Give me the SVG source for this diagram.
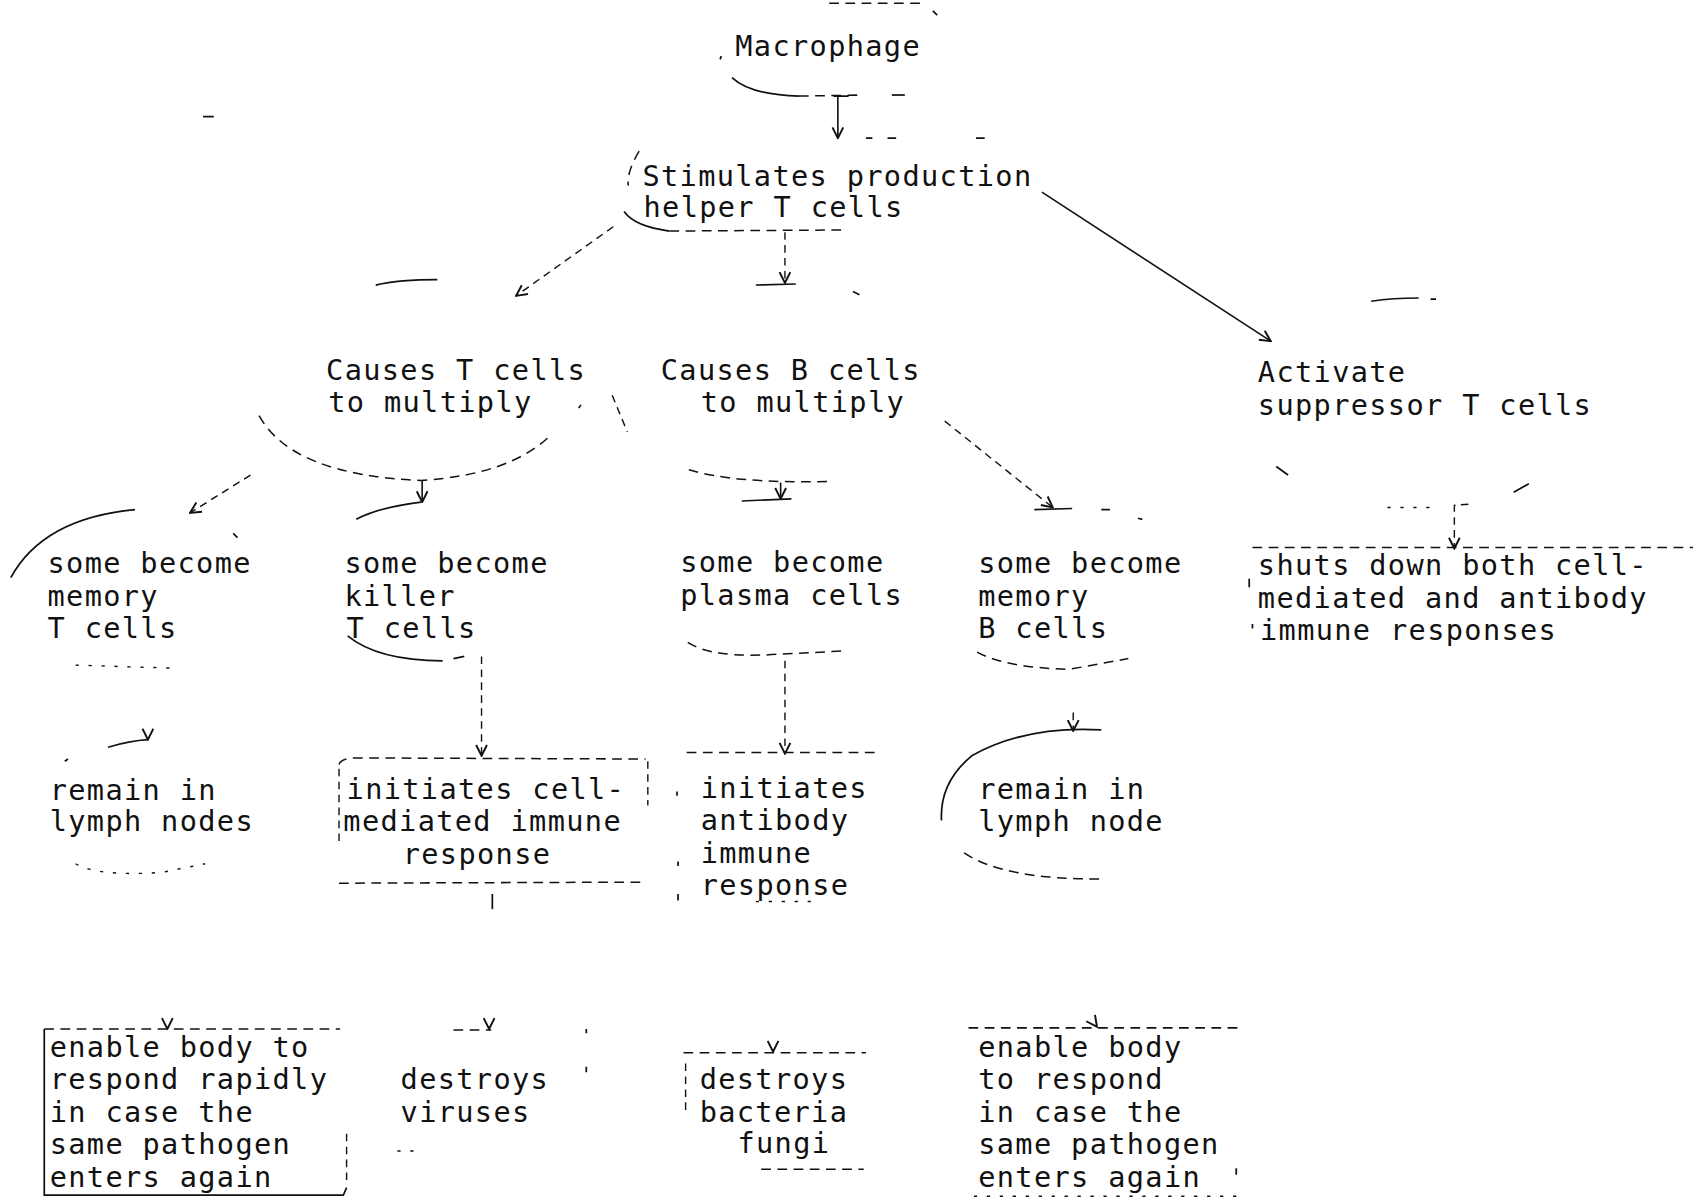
<svg xmlns="http://www.w3.org/2000/svg" width="1693" height="1198" viewBox="0 0 1693 1198">
<style>
text{font-family:"DejaVu Sans Mono","Liberation Mono",monospace;font-size:26.5px;letter-spacing:1.25px;fill:#111}
.s{fill:none;stroke:#111;stroke-width:1.6}
.d{fill:none;stroke:#111;stroke-width:1.4;stroke-dasharray:9 6}
.dd{fill:none;stroke:#111;stroke-width:1.3;stroke-dasharray:3 9}
.c{fill:none;stroke:#111;stroke-width:1.5}
.cd{fill:none;stroke:#111;stroke-width:1.3;stroke-dasharray:7 5}
.h{fill:none;stroke:none}
</style>
<defs>
<marker id="ah" viewBox="0 0 12 12" refX="11" refY="6" markerWidth="12" markerHeight="12" markerUnits="userSpaceOnUse" orient="auto">
<path d="M1,1 L11,6 L1,11" fill="none" stroke="#111" stroke-width="1.8"/>
</marker>
</defs>
<rect width="1693" height="1198" fill="#fff"/>
<g transform="scale(1.0797)">
<g id="stray"><path class="s" d="M188,108 L198,108"/></g>

<g id="macrophage">
<path class="d" d="M768,3 L858,3"/><path class="s" d="M864,10 L868,14"/>
<path class="s" d="M668,52 L667,55"/>
<path class="s" d="M678,72 Q695,88 740,89"/><path class="d" d="M740,89 L800,88"/><path class="s" d="M826,88 L838,88"/>
<text x="681" y="52">Macrophage</text>
</g>

<g id="stimulates">
<path class="d" d="M592,140 Q580,160 582,172"/>
<path class="s" d="M578,196 Q588,210 620,214"/><path class="d" d="M620,214 L782,213"/>
<path class="s" d="M802,128 L808,128 M822,128 L830,128 M904,128 L912,128"/>
<text x="595" y="172">Stimulates production</text>
<text x="596" y="201">helper T cells</text>
</g>

<g id="causesT">
<path class="s" d="M348,264 Q370,259 405,259"/>
<path class="d" d="M240,385 Q270,440 390,445 Q470,440 508,405"/>
<path class="s" d="M536,378 L538,375"/><path class="cd" d="M567,366 L581,400"/>
<text x="302" y="352">Causes T cells</text>
<text x="304" y="382">to multiply</text>
</g>

<g id="causesB">
<path class="s" d="M790,270 L796,273"/>
<path class="d" d="M638,435 Q680,448 768,446"/>
<text x="612" y="352">Causes B cells</text>
<text x="649" y="382">to multiply</text>
</g>

<g id="activate">
<path class="s" d="M1270,279 Q1290,276 1314,276 M1325,277 L1330,277"/>
<path class="s" d="M1182,432 L1193,440 M1402,456 L1416,448"/>
<path class="dd" d="M1285,470 L1330,470"/>
<text x="1165" y="354">Activate</text>
<text x="1165" y="384">suppressor T cells</text>
</g>

<g id="memoryT">
<path class="s" d="M10,535 Q40,480 125,472"/><path class="s" d="M216,494 L220,498"/>
<path class="dd" d="M70,616 L165,619"/>
<text x="44" y="531">some become</text>
<text x="44" y="561">memory</text>
<text x="44" y="591">T cells</text>
</g>

<g id="killerT">
<path class="s" d="M330,481 Q350,470 390,465"/>
<path class="s" d="M322,589 Q350,612 410,612"/><path class="s" d="M420,610 L430,608"/>
<text x="319" y="531">some become</text>
<text x="319" y="561">killer</text>
<text x="321" y="591">T cells</text>
</g>

<g id="plasma">
<path class="d" d="M637,595 Q660,610 720,606 L780,603"/>
<text x="630" y="530">some become</text>
<text x="630" y="560">plasma cells</text>
</g>

<g id="memoryB">
<path class="s" d="M1020,472 L1028,472 M1054,480 L1058,481"/>
<path class="d" d="M905,604 Q930,618 990,620 L1045,610"/>
<text x="906" y="531">some become</text>
<text x="906" y="561">memory</text>
<text x="906" y="591">B cells</text>
</g>

<g id="shutsdown">
<path class="d" d="M1160,507 L1568,507"/>
<path class="s" d="M1157,536 L1157,544 M1160,578 L1160,582"/>
<text x="1165" y="533">shuts down both cell-</text>
<text x="1165" y="563">mediated and antibody</text>
<text x="1167" y="593">immune responses</text>
</g>

<g id="remainT">
<path class="s" d="M60,705 L63,703"/>
<path class="dd" d="M70,800 Q90,812 150,808 L190,800"/>
<text x="46" y="741">remain in</text>
<text x="46" y="770">lymph nodes</text>
</g>

<g id="cellmediated">
<path class="d" d="M314,708 Q316,702 330,702 L598,703"/>
<path class="cd" d="M314,712 L314,780 M600,705 L600,746"/>
<path class="d" d="M314,818 L598,817"/>
<text x="321" y="740">initiates cell-</text>
<text x="318" y="770">mediated immune</text>
<text x="373" y="800">response</text>
</g>

<g id="antibody">
<path class="d" d="M636,697 L810,697"/>
<path class="s" d="M627,733 L627,737 M628,798 L628,802 M628,828 L628,834"/>
<path class="dd" d="M700,835 L760,835"/>
<text x="649" y="739">initiates</text>
<text x="649" y="769">antibody</text>
<text x="649" y="799">immune</text>
<text x="649" y="829">response</text>
</g>

<g id="remainB">
<path class="s" d="M1020,676 Q950,672 900,700 Q870,725 872,760"/>
<path class="d" d="M893,790 Q930,815 1022,814"/>
<text x="906" y="740">remain in</text>
<text x="906" y="770">lymph node</text>
</g>

<g id="enableLeft">
<path class="d" d="M41,953 L315,953"/>
<path class="s" d="M41,953 L41,1107 L318,1107 L321,1100"/>
<path class="cd" d="M321,1050 L321,1098"/>
<text x="46" y="979">enable body to</text>
<text x="46" y="1009">respond rapidly</text>
<text x="46" y="1039">in case the</text>
<text x="46" y="1069">same pathogen</text>
<text x="46" y="1099">enters again</text>
</g>

<g id="viruses">
<path class="d" d="M420,954 L455,954"/>
<path class="s" d="M543,953 L543,957 M543,988 L543,993"/>
<path class="dd" d="M368,1066 L388,1066"/>
<text x="371" y="1009">destroys</text>
<text x="371" y="1039">viruses</text>
</g>

<g id="bacteria">
<path class="d" d="M633,975 L802,975"/>
<path class="cd" d="M635,985 L635,1030"/>
<path class="d" d="M705,1083 L800,1083"/>
<text x="648" y="1009">destroys</text>
<text x="648" y="1039">bacteria</text>
<text x="683" y="1068">fungi</text>
</g>

<g id="enableRight">
<path class="d" d="M897,952 L1146,952"/>
<path class="dd" d="M902,1108 L1146,1108"/>
<path class="s" d="M1145,1082 L1145,1088"/>
<text x="906" y="979">enable body</text>
<text x="906" y="1009">to respond</text>
<text x="906" y="1039">in case the</text>
<text x="906" y="1069">same pathogen</text>
<text x="906" y="1099">enters again</text>
</g>

<g id="connectors">
<path class="c" d="M772,89 L786,89 M776,89 L776,128" marker-end="url(#ah)"/>
<path class="cd" d="M568,210 L478,274" marker-end="url(#ah)"/>
<path class="cd" d="M727,215 L727,262" marker-end="url(#ah)"/><path class="c" d="M700,264 L737,263"/>
<path class="c" d="M965,178 L1177,316" marker-end="url(#ah)"/>
<path class="cd" d="M232,440 L176,475" marker-end="url(#ah)"/>
<path class="c" d="M391,445 L391,465" marker-end="url(#ah)"/>
<path class="c" d="M723,447 L723,462" marker-end="url(#ah)"/><path class="c" d="M687,464 L733,462"/>
<path class="cd" d="M875,390 L975,470" marker-end="url(#ah)"/><path class="c" d="M958,472 L993,471"/>
<path class="cd" d="M1360,467 L1347,468 L1347,508" marker-end="url(#ah)"/>
<path class="c" d="M100,692 Q120,686 137,685"/><path class="h" d="M137,670 L137,685" marker-end="url(#ah)"/>
<path class="cd" d="M446,608 L446,700" marker-end="url(#ah)"/>
<path class="cd" d="M727,612 L727,698" marker-end="url(#ah)"/>
<path class="cd" d="M994,660 L994,677" marker-end="url(#ah)"/>
<path class="s" d="M456,828 L456,842"/>
<path class="h" d="M453,940 L453,953" marker-end="url(#ah)"/>
<path class="h" d="M155,940 L155,953" marker-end="url(#ah)"/>
<path class="h" d="M716,962 L716,974" marker-end="url(#ah)"/>
<path class="h" d="M1008,940 L1016,951" marker-end="url(#ah)"/>
</g>
</g>
</svg>
